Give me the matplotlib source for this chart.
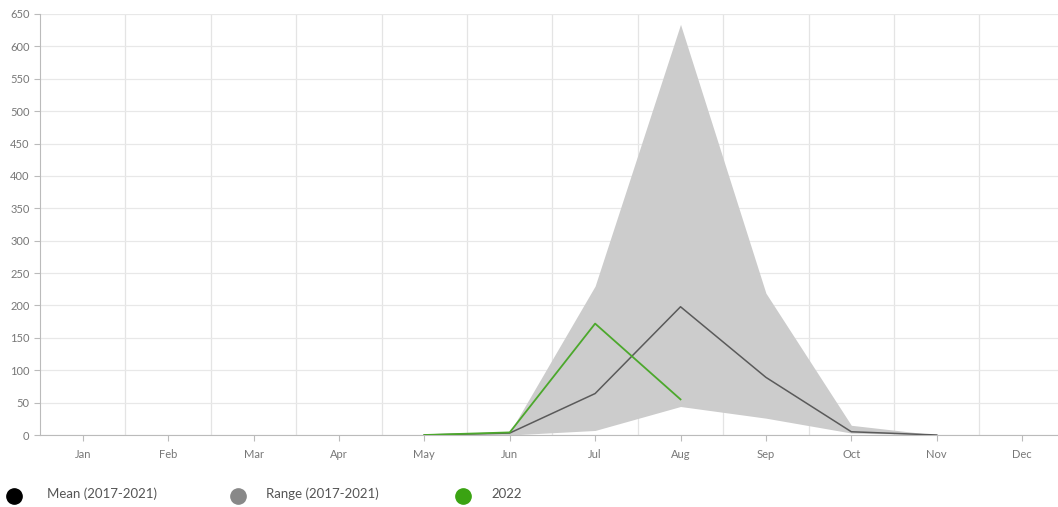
import numpy as np
import matplotlib.pyplot as plt
from matplotlib.lines import Line2D

months = ['Jan', 'Feb', 'Mar', 'Apr', 'May', 'Jun', 'Jul', 'Aug', 'Sep', 'Oct', 'Nov', 'Dec']
nan = np.nan
range_low = [nan, nan, nan, nan, 0, 0, 7, 44, 26, 3, 0, nan]
range_high = [nan, nan, nan, nan, 0, 4, 230, 634, 219, 15, 0, nan]
mean_vals = [nan, nan, nan, nan, 0, 3, 64, 198, 89, 5, 0, nan]
vals_2022 = [nan, nan, nan, nan, 0, 4, 172, 55, nan, nan, nan, nan]

plt.rcParams['font.family'] = ['Lato', 'DejaVu Sans']

fig = plt.figure(figsize=(10.58, 5.07), dpi=100)
ax = fig.add_axes([40 / 1058, 1 - 435 / 507, 1018 / 1058, 421 / 507])

x = np.arange(len(months))
lo = np.array(range_low, dtype=float)
hi = np.array(range_high, dtype=float)
ok = ~np.isnan(lo)
ax.fill_between(x[ok], lo[ok], hi[ok], color='#cccccc', linewidth=0, zorder=2)
ax.plot(x, mean_vals, color='#5a5a5a', linewidth=1.1, zorder=3)
ax.plot(x, vals_2022, color='#4ca82c', linewidth=1.3, zorder=4)

ax.set_xlim(-0.5, 11.42)
ax.set_ylim(0, 650)
ax.set_xticks(x)
ax.set_xticklabels(months)
ax.set_yticks(np.arange(0, 651, 50))
ax.set_xticks(np.arange(0.5, 11.5, 1), minor=True)

ax.grid(True, which='minor', axis='x', color='#e4e4e4', linewidth=0.9, zorder=0)
ax.grid(True, which='major', axis='y', color='#e8e8e8', linewidth=0.9, zorder=0)
ax.set_axisbelow(True)

for side in ['top', 'right']:
    ax.spines[side].set_visible(False)
ax.spines['left'].set_color('#bbbbbb')
ax.spines['bottom'].set_color('#bbbbbb')
ax.tick_params(axis='both', which='major', colors='#bbbbbb', labelcolor='#777777',
               labelsize=8, length=4, width=0.8)
ax.tick_params(axis='x', which='minor', length=0)
ax.tick_params(axis='x', pad=6)

# legend along the bottom
items = [('Mean (2017-2021)', '#000000', 14, 47),
         ('Range (2017-2021)', '#888888', 238, 266),
         ('2022', '#3aa312', 463, 491)]
for label, color, mx, tx in items:
    fig.add_artist(Line2D([mx / 1058], [1 - 496 / 507], marker='o', markersize=11,
                          color=color, linestyle='none', transform=fig.transFigure))
    fig.text(tx / 1058, 1 - 494 / 507, label, fontsize=9.5, color='#555555', va='center')

fig.savefig('out.png', dpi=100)
